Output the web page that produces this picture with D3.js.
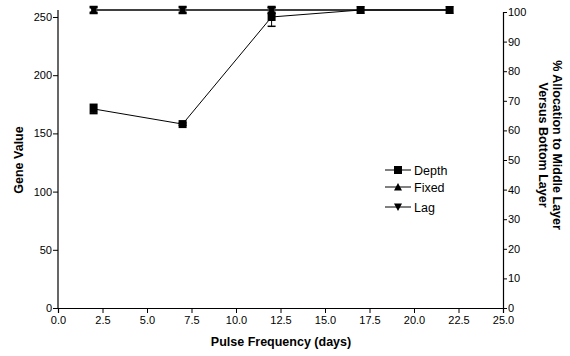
<!DOCTYPE html>
<html>
<head>
<meta charset="utf-8">
<script src="https://cdn.jsdelivr.net/npm/d3@7"></script>
<style>
  body { margin: 0; background: #fff; }
  svg { display: block; font-family: "Liberation Sans", Arial, sans-serif; }
</style>
</head>
<body>
<div id="chart"></div>
<script>
// pulse frequency (days)
var days = [2, 7, 12, 17, 22];
// gene values and error bars
var depth = [171, 158, 250, 256, 256];
var depthErr = [4, 1, 8, 0, 0];
var fixed = [256, 256, 256, 256, 256];
var fixedErr = [2, 2, 2, 0, 0];
var lag = [256, 256, 256, 256, 256];
var lagErr = [3, 3, 3, 0, 0];

var xTicks = [0, 2.5, 5, 7.5, 10, 12.5, 15, 17.5, 20, 22.5, 25];
var yTicks = [0, 50, 100, 150, 200, 250];
var y2Ticks = [0, 10, 20, 30, 40, 50, 60, 70, 80, 90, 100];

var series = [
    {name: "Depth", values: depth, err: depthErr, shape: "square"},
    {name: "Fixed", values: fixed, err: fixedErr, shape: "up"},
    {name: "Lag", values: lag, err: lagErr, shape: "down"}
];

var W = 570, H = 356;
var svg = d3.select("#chart").append("svg").attr("width", W).attr("height", H);

var x = d3.scaleLinear().domain([0, 25]).range([58, 503]);
var y = d3.scaleLinear().domain([0, 256]).range([308, 10]);
var y2 = d3.scaleLinear().domain([0, 100]).range([308, 12]);

function styleAxis(g) {
    g.selectAll("path").attr("stroke", "#000").attr("stroke-width", 1.2);
    g.selectAll("line").attr("stroke", "#000");
    g.selectAll("text").attr("font-size", 11).attr("fill", "#000")
        .attr("font-family", "Liberation Sans, Arial, sans-serif");
}

svg.append("g").attr("transform", "translate(0,308)")
    .call(d3.axisBottom(x).tickValues(xTicks).tickFormat(d3.format(".1f")).tickSizeOuter(0).tickSize(5).tickPadding(3))
    .call(styleAxis);
svg.append("g").attr("transform", "translate(58,0)")
    .call(d3.axisLeft(y).tickValues(yTicks).tickSizeOuter(0).tickSize(5).tickPadding(1))
    .call(styleAxis);
svg.append("g").attr("transform", "translate(503,0)")
    .call(d3.axisRight(y2).tickValues(y2Ticks).tickSizeOuter(0).tickSize(4).tickPadding(1))
    .call(styleAxis);
// left axis path up to top of domain
svg.select("g:nth-of-type(2) path").attr("d", "M0," + y(256) + "V308");

// axis titles
svg.append("text").attr("x", 281).attr("y", 346).attr("text-anchor", "middle")
    .attr("font-size", 12.5).attr("font-weight", "bold").text("Pulse Frequency (days)");
svg.append("text").attr("transform", "translate(23,160) rotate(-90)").attr("text-anchor", "middle")
    .attr("font-size", 12.5).attr("font-weight", "bold").text("Gene Value");
var rt = svg.append("text").attr("transform", "translate(553,145) rotate(90)").attr("text-anchor", "middle")
    .attr("font-size", 12.5).attr("font-weight", "bold");
rt.append("tspan").attr("x", 0).attr("dy", 0).text("% Allocation to Middle Layer");
rt.append("tspan").attr("x", 0).attr("dy", 14).text("Versus Bottom Layer");

var line = d3.line().x(function (d) { return x(d[0]); }).y(function (d) { return y(d[1]); });

function marker(g, shape, cx, cy) {
    if (shape === "square") {
        g.append("rect").attr("x", cx - 4).attr("y", cy - 4).attr("width", 8).attr("height", 8).attr("fill", "#000");
    } else if (shape === "up") {
        g.append("path").attr("d", "M" + cx + "," + (cy - 4) + "L" + (cx + 4) + "," + (cy + 3.5) + "L" + (cx - 4) + "," + (cy + 3.5) + "Z").attr("fill", "#000");
    } else {
        g.append("path").attr("d", "M" + cx + "," + (cy + 4) + "L" + (cx + 4) + "," + (cy - 3.5) + "L" + (cx - 4) + "," + (cy - 3.5) + "Z").attr("fill", "#000");
    }
}

// draw Fixed, Lag first, Depth on top
[1, 2, 0].forEach(function (k) {
    var s = series[k];
    var pts = days.map(function (d, i) { return [d, s.values[i]]; });
    var g = svg.append("g");
    g.append("path").attr("d", line(pts)).attr("fill", "none").attr("stroke", "#000").attr("stroke-width", 1);
    days.forEach(function (d, i) {
        var e = s.err[i];
        if (e > 0) {
            var cx = x(d);
            g.append("line").attr("x1", cx).attr("x2", cx).attr("y1", y(s.values[i] - e)).attr("y2", y(s.values[i] + e))
                .attr("stroke", "#000").attr("stroke-width", 1);
            [s.values[i] - e, s.values[i] + e].forEach(function (v) {
                g.append("line").attr("x1", cx - 4).attr("x2", cx + 4).attr("y1", y(v)).attr("y2", y(v))
                    .attr("stroke", "#000").attr("stroke-width", 1.5);
            });
        }
        marker(g, s.shape, x(d), y(s.values[i]));
    });
});

// legend
var legY = [170, 187, 207];
series.forEach(function (s, i) {
    var g = svg.append("g");
    g.append("line").attr("x1", 385).attr("x2", 411).attr("y1", legY[i]).attr("y2", legY[i]).attr("stroke", "#000");
    marker(g, s.shape, 398, legY[i]);
    g.append("text").attr("x", 414).attr("y", legY[i] + 4.5).attr("font-size", 12.5).text(s.name);
});
</script>
</body>
</html>
